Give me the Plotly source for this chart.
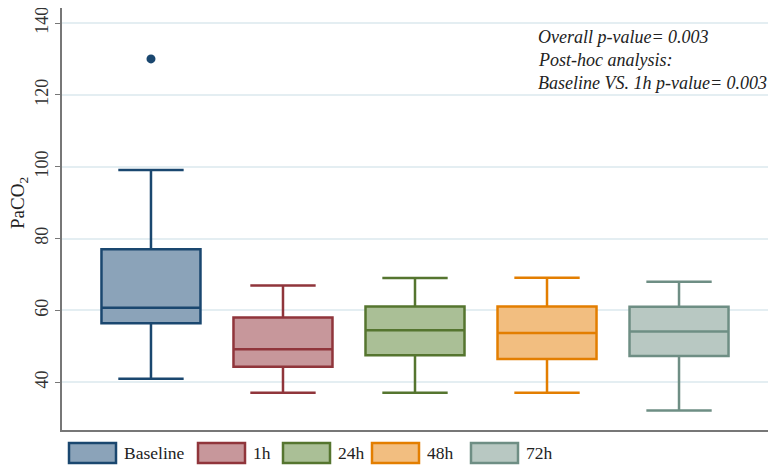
import plotly.graph_objects as go

categories = ["Baseline", "1h", "24h", "48h", "72h"]
lower_whisker = [41.0, 37.1, 37.1, 37.1, 32.1]
q1_values = [56.4, 44.3, 47.5, 46.5, 47.3]
medians = [60.7, 49.2, 54.5, 53.7, 54.1]
q3_values = [77.0, 58.0, 61.1, 61.1, 61.0]
upper_whisker = [99.1, 66.9, 69.0, 69.1, 68.0]
outlier_cat = ["Baseline"]
outlier_val = [130.0]
y_ticks = [40, 60, 80, 100, 120, 140]

line_colors = ["#1a476f", "#90353b", "#55752f", "#e37e00", "#6e8e84"]
fill_colors = ["#8ba3b9", "#c7979b", "#aabf96", "#f2be80", "#b8c8c2"]

annot_lines = [
    "Overall p-value= 0.003",
    "Post-hoc analysis:",
    "Baseline VS. 1h p-value= 0.003",
]

# page has an 8px body margin: screen = figure + 8
OFF = 8
W, H = 769, 458
L, R, T, B = 54, 9, 0, 36
PW, PH = W - L - R, H - T - B

def px(xs):
    return (xs - OFF - L) / PW

def py(ys):
    return (H - B - (ys - OFF)) / PH

FONT = "Liberation Serif"

fig = go.Figure()
for i, c in enumerate(categories):
    fig.add_trace(go.Box(
        x=[c], q1=[q1_values[i]], median=[medians[i]], q3=[q3_values[i]],
        lowerfence=[lower_whisker[i]], upperfence=[upper_whisker[i]],
        name=c, width=0.75, whiskerwidth=0.66,
        line=dict(color=line_colors[i], width=2.5),
        fillcolor=fill_colors[i], boxpoints=False, showlegend=False,
    ))

fig.add_trace(go.Scatter(
    x=outlier_cat, y=outlier_val, mode="markers",
    marker=dict(color=line_colors[0], size=9), showlegend=False,
))

shapes = []
annotations = []
sw_x = [69, 198, 283, 372, 471]
for i, c in enumerate(categories):
    x0 = sw_x[i]
    shapes.append(dict(type="rect", xref="paper", yref="paper",
                       x0=px(x0), x1=px(x0 + 47), y0=py(463), y1=py(443),
                       fillcolor=fill_colors[i],
                       line=dict(color=line_colors[i], width=2.5)))
    annotations.append(dict(xref="paper", yref="paper", x=px(x0 + 53), y=py(453),
                            text=c, showarrow=False, xanchor="left", yanchor="middle",
                            font=dict(family=FONT, size=17.5, color="#222")))

for j, t in enumerate(annot_lines):
    annotations.append(dict(xref="paper", yref="paper", x=px(536), y=py(37 + 23 * j),
                            text="<i>" + t + "</i>", showarrow=False,
                            xanchor="left", yanchor="middle",
                            font=dict(family=FONT, size=18, color="#222")))

annotations.append(dict(xref="paper", yref="paper", x=px(19), y=py(203),
                        text="PaCO<sub>2</sub>", textangle=-90, showarrow=False,
                        xanchor="center", yanchor="middle",
                        font=dict(family=FONT, size=19, color="#222")))

fig.update_layout(
    width=W, height=H,
    margin=dict(l=L, r=R, t=T, b=B),
    paper_bgcolor="white", plot_bgcolor="white",
    boxmode="overlay",
    shapes=shapes, annotations=annotations,
    font=dict(family=FONT, color="#222"),
    xaxis=dict(type="category", categoryorder="array", categoryarray=categories,
               range=[-0.674, 4.674], showticklabels=False, ticks="",
               showgrid=False, showline=True, linecolor="#777", linewidth=1.5,
               zeroline=False),
    yaxis=dict(range=[26.7, 144.18], tickvals=y_ticks, tickangle=-90,
               ticks="outside", ticklen=5, tickcolor="#777", tickwidth=1,
               showline=True, linecolor="#777", linewidth=1.5,
               showgrid=True, gridcolor="#e4eef2", gridwidth=1.5,
               ticklabeloverflow="allow",
               zeroline=False, tickfont=dict(family=FONT, size=18, color="#333")),
)

fig.write_html("out.html")
